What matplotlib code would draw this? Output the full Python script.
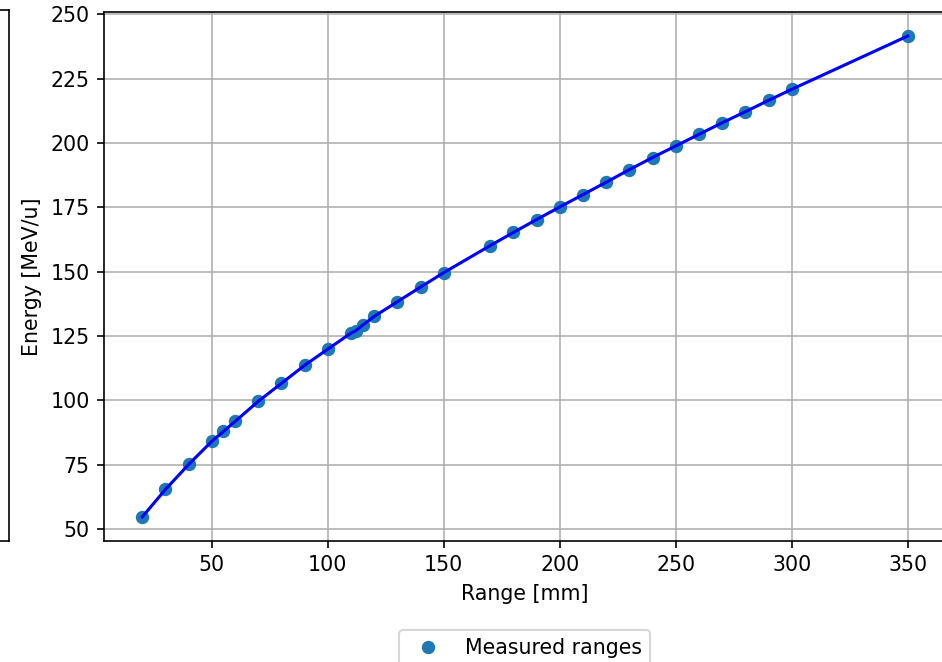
import matplotlib
matplotlib.use('Agg')
import matplotlib.pyplot as plt

# Measured ranges
range_mm = [20, 30, 40, 50, 55, 60, 70, 80, 90, 100, 110, 112, 115, 120, 130, 140, 150,
            170, 180, 190, 200, 210, 220, 230, 240, 250, 260, 270, 280, 290, 300, 350]
energy = [54.7, 65.4, 75.1, 84.1, 87.9, 91.8, 99.6, 106.6, 113.6, 119.9, 126.1, 127.0, 129.2,
          132.6, 138.3, 144.0, 149.6, 160.1, 165.2, 170.2, 175.1, 179.9, 184.7, 189.6,
          194.3, 198.8, 203.3, 207.8, 212.1, 216.5, 220.8, 241.5]

fig = plt.figure(figsize=(942 / 148, 662 / 148), dpi=148)

# neighbouring subplot, mostly outside the crop
ax0 = fig.add_axes([-0.9, 0.1828, 0.9096, 0.8022])
ax0.set_xticks([])
ax0.set_yticks([])

ax = fig.add_axes([0.1104, 0.1828, 0.8938, 0.7991])
ax.plot(range_mm, energy, 'o', color='tab:blue', markersize=5.5, label='Measured ranges')
ax.plot(range_mm, energy, '-', color='b', linewidth=1.5)
ax.set_xlabel('Range [mm]')
ax.set_ylabel('Energy [MeV/u]')
ax.grid(True)
ax.legend(loc='upper center', bbox_to_anchor=(0.5, -0.149))

fig.savefig('out.png', dpi=148)
